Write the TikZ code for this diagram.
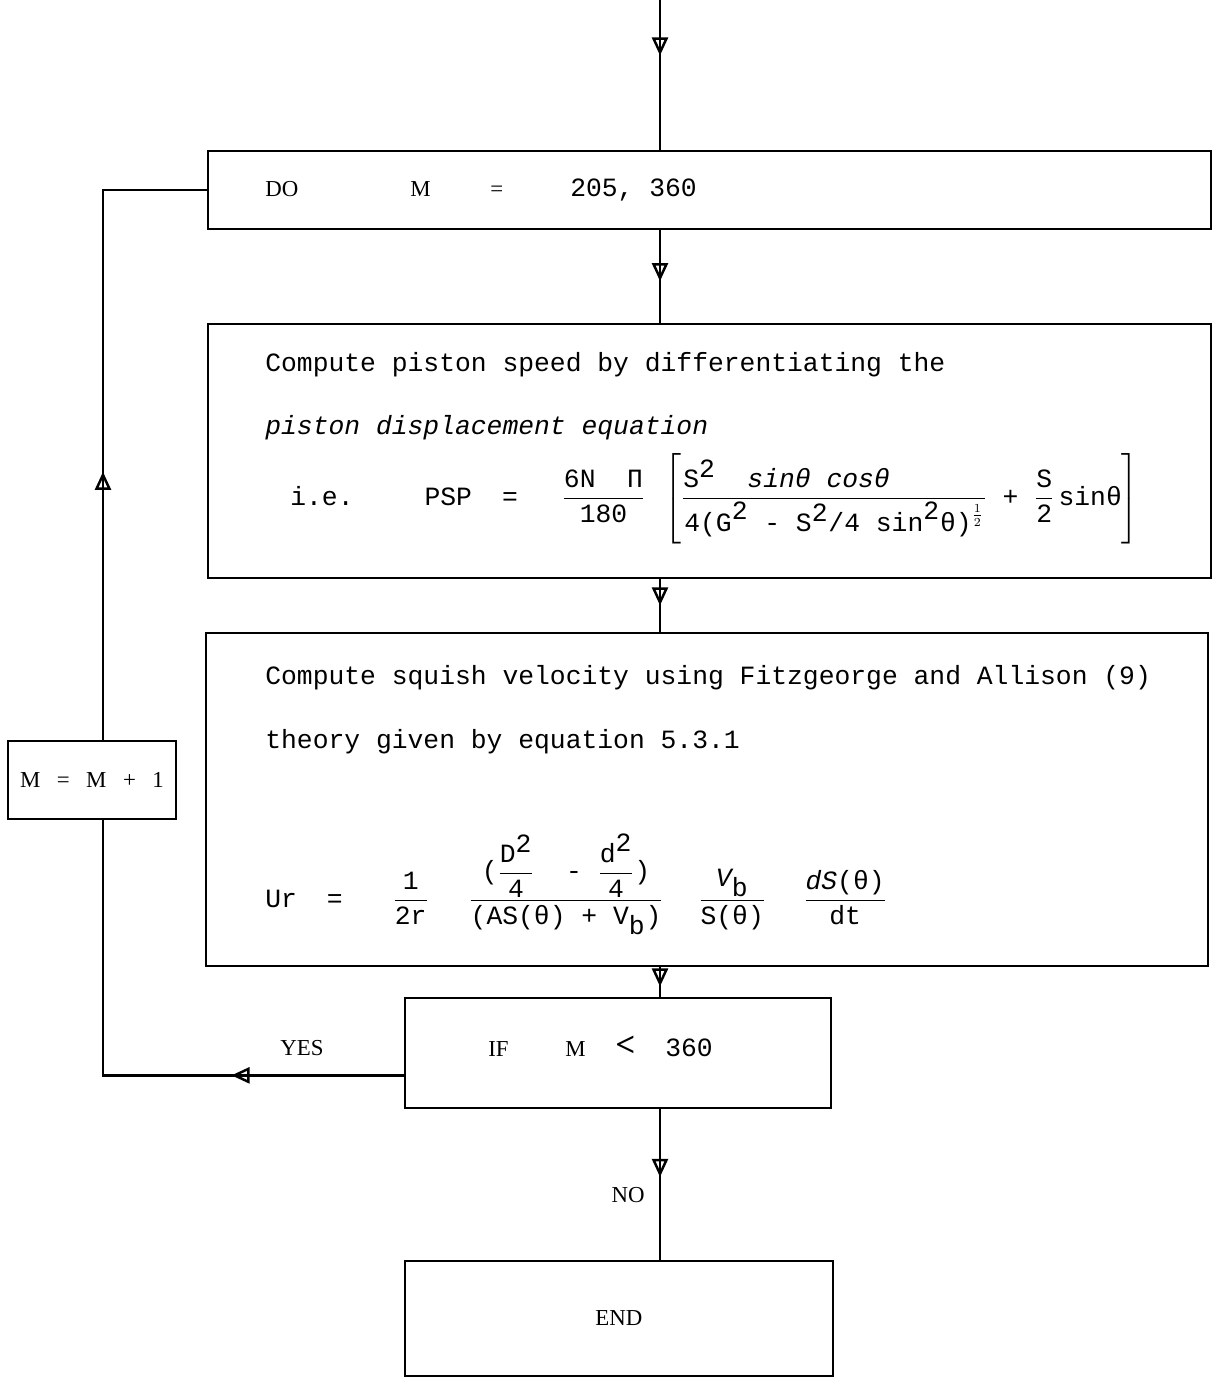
\documentclass[tikz,border=0pt]{standalone}
\usepackage{amsmath}
\usepackage{fontspec}
\setmainfont{Liberation Serif}
\setmonofont{Liberation Mono}
\usetikzlibrary{positioning, arrows.meta, decorations.markings, calc}
\newcommand{\lab}{\rmfamily\fontsize{13}{15}\selectfont}
\tikzset{
  box/.style={draw, rectangle, line width=1.1pt, anchor=north west, inner sep=0pt, font=\lab},
  txt/.style={anchor=base west, inner sep=0pt, font=\ttfamily\fontsize{15}{18}\selectfont},
  lbl/.style={inner sep=0pt, font=\lab},
  flow/.style={line width=1.4pt, postaction={decorate}, decoration={markings, mark=at position #1 with {\arrow{Triangle[open, length=0.36cm, width=0.32cm, line width=1.4pt]}}}},
  flow/.default=0.5
}
\begin{document}
\begin{tikzpicture}[x=0.02cm, y=-0.02cm]
\useasboundingbox (0,0) rectangle (1214,1382);
\coordinate (axis) at (660,0);
\node[box, minimum width=20.06cm, minimum height=1.56cm] (do) at (207,150) {};
\node[box, minimum width=20.06cm, minimum height=5.08cm] (comp) at (207,323) {};
\node[box, minimum width=20.04cm, minimum height=6.66cm] (squish) at (205,632) {};
\node[box, minimum width=3.36cm, minimum height=1.56cm] (inc) at (7,740) {M\hspace{0.33cm}=\hspace{0.33cm}M\hspace{0.33cm}+\hspace{0.33cm}1};
\node[box, minimum width=8.52cm, minimum height=2.2cm] (test) at (404,997) {};
\node[box, minimum width=8.56cm, minimum height=2.3cm] (stop) at (404,1260) {END};

\node[txt] (dotxt) at (265,196) {\makebox[2.9cm][l]{\lab DO}\makebox[1.6cm][l]{\lab M}\makebox[1.6cm][l]{\lab =}205, 360};
\node[txt] (c1) at (265,371) {Compute piston speed by differentiating the};
\node[txt] (c2) at (265,434) {\itshape piston displacement equation};
\node[txt] (psp) at (290,505) {$\text{i.e.}\hspace{1.42cm}\text{PSP}\hspace{0.6cm}\text{=}\hspace{0.88cm}\dfrac{\text{6N\ \ Π}}{\text{180}}\hspace{0.3cm}\left[\rule[-0.85cm]{0pt}{1.7cm}\dfrac{\text{S}^{\mbox{2}}\ \ \textit{sinθ cosθ}\hspace{1.9cm}}{\text{4(G}^{\mbox{2}}\text{ - S}^{\mbox{2}}\text{/4 sin}^{\mbox{2}}\text{θ)}^{\frac{1}{2}}}\ \text{+}\ \dfrac{\text{S}}{\text{2}}\,\text{sinθ}\right]$};
\node[txt] (s1) at (265,684) {Compute squish velocity using Fitzgeorge and Allison (9)};
\node[txt] (s2) at (265,748) {theory given by equation 5.3.1};
\node[txt] (ur) at (265,907) {$\text{Ur}\hspace{0.6cm}\text{=}\hspace{1cm}\dfrac{\text{1}}{\text{2r}}\hspace{0.8cm}\dfrac{\text{(}\dfrac{\text{D}^{\mbox{2}}}{\text{4}}\ \ \text{-}\ \dfrac{\text{d}^{\mbox{2}}}{\text{4}}\text{)}}{\text{(AS(θ) + V}_{\mbox{b}}\text{)}}\hspace{0.7cm}\dfrac{\textit{V}_{\mbox{b}}}{\text{S(θ)}}\hspace{0.75cm}\dfrac{\textit{dS}\text{(θ)}}{\text{dt}}$};
\node[lbl, anchor=base west] (cond) at (488,1056) {\makebox[1.54cm][l]{IF}\makebox[1.0cm][l]{M}\makebox[1.0cm][l]{\bfseries\fontsize{20}{20}\selectfont <}{\ttfamily\fontsize{15}{18}\selectfont 360}};
\node[lbl] (yes) at (302,1048) {YES};
\node[lbl] (no) at (628,1195) {NO};

\coordinate (loop) at ($(inc.south west)!0.565!(inc.south east)$);
\coordinate (yesout) at ($(test.south west)!0.3!(test.north west)$);
\draw[flow=0.37] (axis) -- (do.north -| axis);
\draw[flow=0.55] (do.south -| axis) -- (comp.north -| axis);
\draw[flow=0.5] (comp.south -| axis) -- (squish.north -| axis);
\draw[flow=0.65] (squish.south -| axis) -- (test.north -| axis);
\draw[flow=0.45] (test.south -| axis) -- (stop.north -| axis);
\draw[flow=0.31] (yesout) -- (yesout -| loop) -- (loop);
\draw[flow=0.41] (loop |- inc.north) -- (loop |- do.west) -- (do.west);
\end{tikzpicture}
\end{document}
